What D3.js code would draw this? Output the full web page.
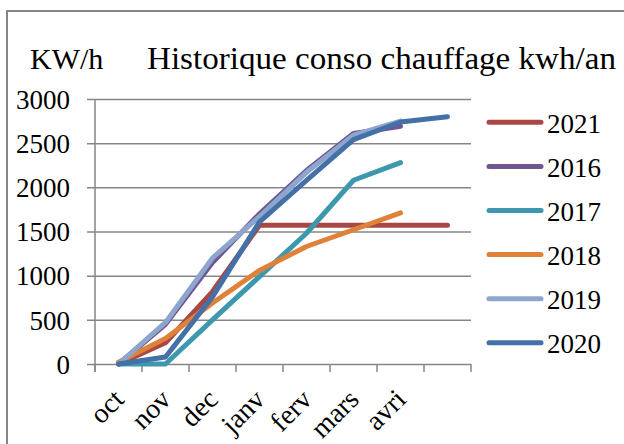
<!DOCTYPE html>
<html>
<head>
<meta charset="utf-8">
<script src="https://cdn.jsdelivr.net/npm/d3@7"></script>
<style>
  html, body { margin: 0; padding: 0; background: #fff; }
  svg { display: block; }
  text { font-family: "Liberation Serif", "DejaVu Serif", serif; fill: #000; }
</style>
</head>
<body>
<svg id="chart" width="624" height="444"></svg>
<script>
const categories = ["oct", "nov", "dec", "janv", "ferv", "mars", "avri", ""];
const seriesNames = ["2021", "2016", "2017", "2018", "2019", "2020"];
const v2021 = [0, 240, 820, 1570, 1570, 1570, 1570, 1570];
const v2016 = [0, 450, 1150, 1700, 2190, 2610, 2690, null];
const v2017 = [0, 0, 500, 990, 1480, 2080, 2280, null];
const v2018 = [20, 290, 690, 1060, 1330, 1520, 1710, null];
const v2019 = [0, 470, 1200, 1670, 2170, 2590, 2750, null];
const v2020 = [0, 80, 760, 1610, 2080, 2540, 2740, 2800];
const yTicks = [0, 500, 1000, 1500, 2000, 2500, 3000];
const colors = ["#A94744", "#6F5592", "#3D98AE", "#E0813A", "#8DA6CD", "#4470A8"];
const titleUnit = "KW/h";
const titleText = "Historique conso chauffage kwh/an";

const series = [v2021, v2016, v2017, v2018, v2019, v2020];

const svg = d3.select("#chart");
const plot = { left: 95, right: 471, top: 99, bottom: 364 };

// outer border
svg.append("rect")
  .attr("x", 7).attr("y", 11)
  .attr("width", 700).attr("height", 500)
  .attr("fill", "none").attr("stroke", "#868686").attr("stroke-width", 2);

const x = d3.scaleBand().domain(categories).range([plot.left, plot.right]).padding(0);
const y = d3.scaleLinear().domain([0, 3000]).range([plot.bottom, plot.top]);
const cx = c => x(c) + x.bandwidth() / 2;

const gridColor = "#868686";

// gridlines + y ticks via axis
const yAxis = d3.axisLeft(y).tickValues(yTicks).tickSizeInner(-(plot.right - plot.left)).tickSizeOuter(0).tickPadding(25).tickFormat(d3.format("d"));
const gy = svg.append("g").attr("transform", `translate(${plot.left},0)`).call(yAxis);
gy.select(".domain").remove();
gy.selectAll(".tick line").attr("stroke", gridColor).attr("stroke-width", 1.5).attr("x1", -8);
gy.selectAll(".tick text")
  .attr("font-size", 27).attr("font-family", "Liberation Serif")
  .attr("fill", "#000").attr("dy", "0.34em");

// y axis line
svg.append("line")
  .attr("x1", plot.left).attr("x2", plot.left)
  .attr("y1", plot.top).attr("y2", plot.bottom + 8)
  .attr("stroke", gridColor).attr("stroke-width", 1.5);

// x axis ticks at band edges
const edges = categories.map(c => x(c)).concat([plot.right]);
svg.append("g").selectAll("line").data(edges).join("line")
  .attr("x1", d => d).attr("x2", d => d)
  .attr("y1", plot.bottom).attr("y2", plot.bottom + 8)
  .attr("stroke", gridColor).attr("stroke-width", 1.5);

// x labels rotated
svg.append("g").selectAll("text").data(categories).join("text")
  .attr("transform", d => `translate(${cx(d) + 7},${plot.bottom + 37}) rotate(-45)`)
  .attr("text-anchor", "end")
  .attr("font-size", 28)
  .text(d => d);

// lines
const line = d3.line()
  .defined(d => d.v !== null)
  .x(d => cx(d.c))
  .y(d => y(d.v));

svg.append("g").selectAll("path").data(series).join("path")
  .attr("d", s => line(s.map((v, i) => ({ c: categories[i], v }))))
  .attr("fill", "none")
  .attr("stroke", (s, i) => colors[i])
  .attr("stroke-width", 5)
  .attr("stroke-linejoin", "round")
  .attr("stroke-linecap", "round");

// legend
const lg = svg.append("g");
seriesNames.forEach((name, i) => {
  const ly = 122.3 + 44.1 * i;
  lg.append("line")
    .attr("x1", 489).attr("x2", 541)
    .attr("y1", ly).attr("y2", ly)
    .attr("stroke", colors[i]).attr("stroke-width", 5)
    .attr("stroke-linecap", "round");
  lg.append("text")
    .attr("x", 547).attr("y", ly + 10.5)
    .attr("font-size", 27)
    .text(name);
});

// titles
svg.append("text").attr("x", 30).attr("y", 68.5).attr("font-size", 30).text(titleUnit);
svg.append("text").attr("x", 147).attr("y", 68.5).attr("font-size", 31)
  .attr("textLength", 469).attr("lengthAdjust", "spacingAndGlyphs")
  .text(titleText);
</script>
</body>
</html>
